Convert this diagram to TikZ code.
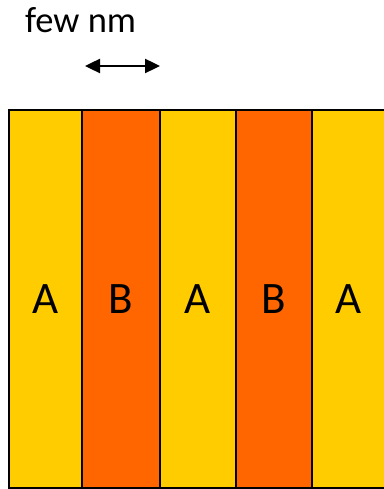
\documentclass[tikz,border=0pt]{standalone}
\usepackage{fontspec}
\setmainfont{Carlito}
\usetikzlibrary{arrows.meta}
\definecolor{layerA}{HTML}{FFCC00}
\definecolor{layerB}{HTML}{FF6600}
\begin{document}
\begin{tikzpicture}[x=1pt,y=-1pt,
  layer/.style={draw=black,line width=2pt,inner sep=0pt,outer sep=0pt,
    minimum height=378pt,font=\fontsize{45}{54}\selectfont},
  width/.style={line width=2.4pt,{Stealth[length=15pt,width=14pt,inset=0pt]}-{Stealth[length=15pt,width=14pt,inset=0pt]}}]
\useasboundingbox (0,0) rectangle (383,489);
% alternating layers (the last one runs past the right edge)
\node[layer,fill=layerA,minimum width=73pt] (a1) at (45.5,299) {A};
\node[layer,fill=layerB,minimum width=78pt] (b1) at (121,299) {B};
\node[layer,fill=layerA,minimum width=76pt] (a2) at (198,299) {A};
\node[layer,fill=layerB,minimum width=76pt] (b2) at (274,299) {B};
\node[layer,fill=layerA,minimum width=84pt] (a3) at (354,299) {};
\node[font=\fontsize{45}{54}\selectfont,inner sep=0pt] (a3t) at (349,299) {A};
% thickness marker
\coordinate (wl) at (85,66);
\coordinate (wr) at (160,66);
\draw[width] (wl) -- (wr);
\node[anchor=base west,inner sep=0pt,font=\fontsize{36.5}{44}\selectfont] (lbl) at (25,33) {few nm};
\end{tikzpicture}
\end{document}
